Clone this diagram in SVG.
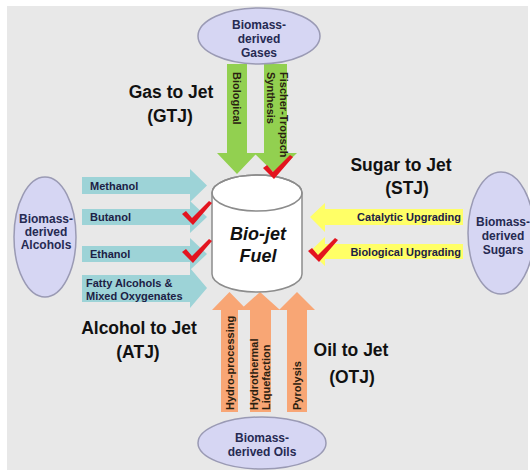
<svg xmlns="http://www.w3.org/2000/svg" width="530" height="472" viewBox="0 0 530 472">
<style>
.src{fill:#d6d6f3;stroke:#9a9ab4;stroke-width:1.5}
.st{font-family:"Liberation Sans",Arial,sans-serif;font-weight:bold;font-size:12px;fill:#262a52;text-anchor:middle}
.lbl{font-family:"Liberation Sans",Arial,sans-serif;font-weight:bold;font-size:17.5px;fill:#111;text-anchor:middle}
.at{font-family:"Liberation Sans",Arial,sans-serif;font-weight:bold;font-size:11px;fill:#1c2145}
.vt{font-family:"Liberation Sans",Arial,sans-serif;font-weight:bold;font-size:11px;fill:#2a2010;dominant-baseline:central}
.green{fill:#92d050}
.teal{fill:#9dd3d7}
.yellow{fill:#ffff66}
.orange{fill:#f8a675}
.chk{fill:#e3141f}
</style>
<defs>
<path id="check" d="M0,13 L4,10 L10,17 L27,0 L30,2 L11,24 Z"/>
</defs>
<rect x="0" y="0" width="530" height="472" fill="#ffffff"/>
<rect x="7" y="6" width="521" height="464" fill="#e8e8e8"/>

<g id="connectors">
<polygon class="green" points="227,64 247,64 247,153 257,153 237,174 217,153 227,153"/>
<polygon class="green" points="264,64 287,64 287,153 297,153 275.5,174 254,153 264,153"/>
<polygon class="teal" points="82,177 190,177 190,169 207,185.5 190,202 190,194 82,194"/>
<polygon class="teal" points="82,209 190,209 190,201 207,217 190,233 190,225 82,225"/>
<polygon class="teal" points="82,246 190,246 190,238 207,254 190,270 190,262 82,262"/>
<polygon class="teal" points="82,275 190,275 190,268 207,288 190,308 190,302 82,302"/>
<polygon class="yellow" points="463,209 325,209 325,203 310,217 325,232 325,225 463,225"/>
<polygon class="yellow" points="463,244 325,244 325,237 310,251.5 325,266 325,259 463,259"/>
<polygon class="orange" points="221,412 221,310 212,310 229.5,292 247,310 238,310 238,412"/>
<polygon class="orange" points="250,412 250,310 240,310 260,292 280,310 271,310 271,412"/>
<polygon class="orange" points="287,412 287,310 279,310 297,292 315,310 307,310 307,412"/>
</g>

<g id="arrow-labels">
<text class="vt" transform="translate(237,72) rotate(90)">Biological</text>
<text class="vt" transform="translate(284,72) rotate(90)">Fischer-Tropsch</text>
<text class="vt" transform="translate(271,72) rotate(90)">Synthesis</text>
<text class="at" x="90" y="189.5">Methanol</text>
<text class="at" x="90" y="221">Butanol</text>
<text class="at" x="90" y="258">Ethanol</text>
<text class="at" x="86" y="287">Fatty Alcohols &amp;</text>
<text class="at" x="86" y="300">Mixed Oxygenates</text>
<text class="at" x="461" y="221" text-anchor="end" font-size="10.5">Catalytic Upgrading</text>
<text class="at" x="461" y="255.5" text-anchor="end" font-size="10.5">Biological Upgrading</text>
<text class="vt" transform="translate(229.5,410) rotate(-90)">Hydro-processing</text>
<text class="vt" transform="translate(254,410) rotate(-90)">Hydrothermal</text>
<text class="vt" transform="translate(266,410) rotate(-90)">Liquefaction</text>
<text class="vt" transform="translate(297,410) rotate(-90)">Pyrolysis</text>
</g>

<g id="gases">
<ellipse class="src" cx="259" cy="36" rx="61" ry="28"/>
<text class="st" x="259" y="29">Biomass-</text>
<text class="st" x="259" y="43">derived</text>
<text class="st" x="259" y="57">Gases</text>
</g>

<g id="alcohols">
<ellipse class="src" cx="45" cy="237" rx="31" ry="60"/>
<text class="st" x="46" y="223" font-size="11.5">Biomass-</text>
<text class="st" x="46" y="236" font-size="11.5">derived</text>
<text class="st" x="46" y="249" font-size="11.5">Alcohols</text>
</g>

<g id="sugars">
<ellipse class="src" cx="501" cy="233" rx="33" ry="61"/>
<text class="st" x="503" y="226">Biomass-</text>
<text class="st" x="503" y="240">derived</text>
<text class="st" x="503" y="254">Sugars</text>
</g>

<g id="oils">
<ellipse class="src" cx="262" cy="443" rx="64" ry="26"/>
<text class="st" x="262" y="442">Biomass-</text>
<text class="st" x="262" y="456">derived Oils</text>
</g>

<g id="biojet">
<path d="M212,193 L212,274 A45,18 0 0 0 302,274 L302,193 A45,18 0 0 0 212,193 Z" fill="#ffffff" stroke="#8c8c8c" stroke-width="1.5"/>
<ellipse cx="257" cy="193" rx="45" ry="18" fill="none" stroke="#8c8c8c" stroke-width="1.5"/>
<text x="258" y="240" font-family="Liberation Sans,Arial,sans-serif" font-weight="bold" font-style="italic" font-size="18" fill="#111" text-anchor="middle">Bio-jet</text>
<text x="258" y="262" font-family="Liberation Sans,Arial,sans-serif" font-weight="bold" font-style="italic" font-size="18" fill="#111" text-anchor="middle">Fuel</text>
</g>

<g id="checks">
<use href="#check" class="chk" x="182" y="201"/>
<use href="#check" class="chk" x="182" y="239"/>
<use href="#check" class="chk" x="263" y="155"/>
<use href="#check" class="chk" x="308" y="238"/>
</g>

<g id="labels">
<text class="lbl" x="171" y="98">Gas to Jet</text>
<text class="lbl" x="170" y="122">(GTJ)</text>
<text class="lbl" x="401" y="171">Sugar to Jet</text>
<text class="lbl" x="407" y="194">(STJ)</text>
<text class="lbl" x="139" y="334">Alcohol to Jet</text>
<text class="lbl" x="138" y="358">(ATJ)</text>
<text class="lbl" x="351" y="356">Oil to Jet</text>
<text class="lbl" x="352" y="383">(OTJ)</text>
</g>
</svg>
